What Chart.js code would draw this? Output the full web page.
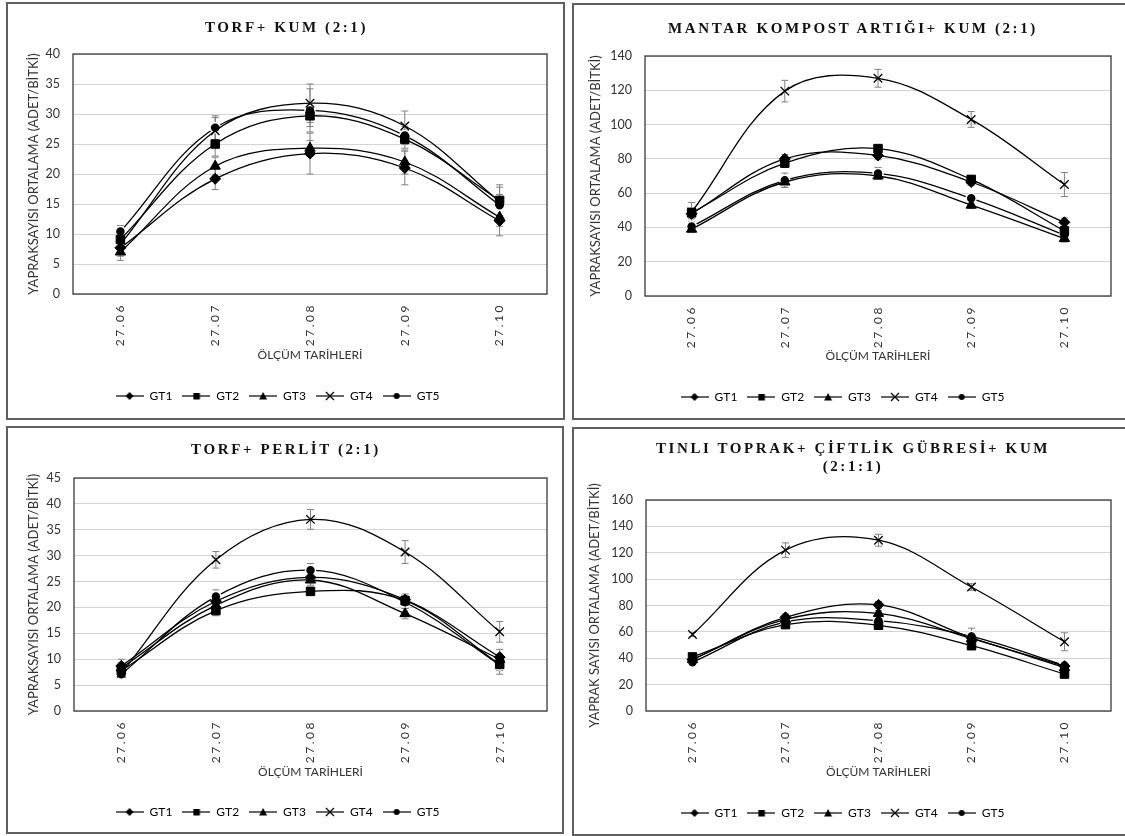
<!DOCTYPE html>
<html>
<head>
<meta charset="utf-8">
<script src="https://cdn.jsdelivr.net/npm/chart.js@4/dist/chart.umd.min.js"></script>
<style>
  html, body { margin: 0; padding: 0; background: #fff; overflow: hidden; }
  body { width: 1125px; height: 836px; position: relative; }
  .panel { position: absolute; border: 2px solid #5f5f5f; box-sizing: border-box; background: #fff; }
  .panel canvas { position: absolute; left: 0; top: 0; }
  .ttl { position: absolute; left: 0; right: 0; text-align: center; padding-left: 2px;
         font-family: 'Liberation Serif', 'Times New Roman', serif; font-weight: bold;
         font-size: 15px; letter-spacing: 2.6px; line-height: 18px; color: #111; }
</style>
</head>
<body>
<div class="panel" style="left:6px; top:2px; width:559px; height:418px;">
  <canvas id="c1" width="555" height="414"></canvas>
  <div class="ttl" style="top:14px;">TORF+ KUM (2:1)</div>
</div>
<div class="panel" style="left:572px; top:3px; width:560px; height:417px;">
  <canvas id="c2" width="556" height="413"></canvas>
  <div class="ttl" style="top:14px;">MANTAR KOMPOST ARTIĞI+ KUM (2:1)</div>
</div>
<div class="panel" style="left:6px; top:426px; width:558px; height:408px;">
  <canvas id="c3" width="554" height="404"></canvas>
  <div class="ttl" style="top:12px;">TORF+ PERLİT (2:1)</div>
</div>
<div class="panel" style="left:572px; top:427px; width:560px; height:409px;">
  <canvas id="c4" width="556" height="405"></canvas>
  <div class="ttl" style="top:10px;">TINLI TOPRAK+ ÇİFTLİK GÜBRESİ+ KUM<br>(2:1:1)</div>
</div>

<script>
// categories and series
const dates = ['27.06', '27.07', '27.08', '27.09', '27.10'];
const seriesNames = ['GT1', 'GT2', 'GT3', 'GT4', 'GT5'];

// TORF+ KUM (2:1)  rows = GT1..GT5
const torfKum = [
    [7.7, 19.2, 23.4, 21.0, 12.2],
    [9.1, 25.0, 29.7, 25.8, 15.6],
    [7.0, 21.3, 24.3, 22.0, 12.8],
    [8.3, 27.2, 31.8, 28.0, 15.4],
    [10.4, 27.7, 30.6, 26.4, 14.8]
];
const torfKumErr = [
    [1.4, 1.8, 3.4, 2.8, 2.5],
    [1.2, 2.0, 1.8, 1.5, 2.6],
    [1.4, 1.5, 1.3, 2.0, 1.5],
    [1.2, 2.2, 3.2, 2.5, 2.4],
    [1.0, 2.0, 3.6, 1.5, 1.8]
];

// MANTAR KOMPOST ARTIĞI+ KUM (2:1)
const mantarKum = [
    [48, 80, 82, 66.5, 43],
    [48.5, 77.5, 86, 68, 38],
    [39, 66.5, 70, 53, 33.5],
    [49, 119.5, 127, 103, 65],
    [40.5, 67.5, 71.5, 57, 35.5]
];
const mantarKumErr = [
    [3, 2.5, 2.5, 2, 2.5],
    [3, 2.5, 2, 2, 2],
    [2, 3, 2, 2, 2],
    [5.5, 6.3, 5.2, 4.6, 7],
    [2.5, 4.2, 3.5, 2.5, 2]
];

// TORF+ PERLİT (2:1)
const torfPerlit = [
    [8.7, 21.2, 25.8, 21.5, 10.4],
    [7.8, 19.4, 23.1, 21.3, 9.0],
    [8.3, 20.4, 25.3, 18.8, 10.0],
    [7.3, 29.2, 37.0, 30.7, 15.3],
    [7.1, 22.1, 27.2, 21.0, 8.9]
];
const torfPerlitErr = [
    [1.3, 1.2, 1.0, 1.1, 1.5],
    [1.0, 1.0, 0.8, 1.0, 1.2],
    [1.0, 1.0, 1.0, 1.0, 1.0],
    [1.0, 1.6, 1.9, 2.2, 2.0],
    [0.8, 1.3, 1.3, 1.2, 1.8]
];

// TINLI TOPRAK+ ÇİFTLİK GÜBRESİ+ KUM (2:1:1)
const tinliToprak = [
    [39, 71, 80.5, 55.5, 34],
    [41, 65.5, 65, 49.5, 28],
    [39, 69.5, 74, 55, 33],
    [58, 122, 129.5, 94, 52.5],
    [37, 67.5, 68.5, 56.5, 34.5]
];
const tinliToprakErr = [
    [2, 2.5, 2.5, 2, 2],
    [2, 2, 2, 2.5, 2],
    [2, 2, 2, 2, 2],
    [1.5, 5.5, 4.5, 2.5, 6.8],
    [2, 2, 3, 6.3, 2.5]
];

const markers = [
    { style: 'rectRot', radius: 5.5 },
    { style: 'rect', radius: 6 },
    { style: 'triangle', radius: 6 },
    { style: 'crossRot', radius: 6 },
    { style: 'circle', radius: 5 }
];

// legend samples: short line with the marker in the middle
function legendIcon(style) {
    const c = document.createElement('canvas');
    c.width = 28; c.height = 14;
    const g = c.getContext('2d');
    g.strokeStyle = '#000'; g.fillStyle = '#000'; g.lineWidth = 1.2;
    g.beginPath(); g.moveTo(0, 7); g.lineTo(28, 7); g.stroke();
    g.beginPath();
    if (style === 'rectRot') {
        g.moveTo(14, 3); g.lineTo(18, 7); g.lineTo(14, 11); g.lineTo(10, 7); g.closePath(); g.fill();
    } else if (style === 'rect') {
        g.fillRect(11, 4, 6.5, 6.5);
    } else if (style === 'triangle') {
        g.moveTo(14, 3); g.lineTo(18, 10.5); g.lineTo(10, 10.5); g.closePath(); g.fill();
    } else if (style === 'crossRot') {
        g.moveTo(10, 3); g.lineTo(18, 11); g.moveTo(18, 3); g.lineTo(10, 11); g.stroke();
    } else {
        g.arc(14, 7, 3, 0, Math.PI * 2); g.fill();
    }
    return c;
}
const legendIcons = markers.map(m => legendIcon(m.style));

const errorBarsAndFrame = {
    id: 'errorBarsAndFrame',
    beforeDatasetsDraw(chart, args, opts) {
        const { ctx, scales: { y } } = chart;
        ctx.save();
        ctx.strokeStyle = '#808080';
        ctx.lineWidth = 1;
        chart.data.datasets.forEach((ds, i) => {
            chart.getDatasetMeta(i).data.forEach((pt, j) => {
                const e = opts.errors[i][j];
                const top = y.getPixelForValue(ds.data[j] + e);
                const bot = y.getPixelForValue(ds.data[j] - e);
                ctx.beginPath();
                ctx.moveTo(pt.x, top); ctx.lineTo(pt.x, bot);
                ctx.moveTo(pt.x - 3.5, top); ctx.lineTo(pt.x + 3.5, top);
                ctx.moveTo(pt.x - 3.5, bot); ctx.lineTo(pt.x + 3.5, bot);
                ctx.stroke();
            });
        });
        ctx.restore();
    },
    afterDatasetsDraw(chart) {
        const { ctx, chartArea: a } = chart;
        ctx.save();
        ctx.strokeStyle = '#3a3a3a';
        ctx.lineWidth = 1.3;
        ctx.strokeRect(a.left, a.top, a.right - a.left, a.bottom - a.top);
        ctx.restore();
        // x tick labels are drawn after this (ticks z = 1), spaced out like the original
        ctx.letterSpacing = '2.5px';
    },
    afterDraw(chart) {
        chart.ctx.letterSpacing = '0px';
    }
};

function makeChart(id, values, errors, yMax, yStep, yTitle, lay) {
    const datasets = values.map((row, i) => ({
        label: seriesNames[i],
        data: row,
        borderColor: '#000',
        borderWidth: 1.3,
        tension: 0.37,
        fill: false,
        pointStyle: markers[i].style,
        pointRadius: markers[i].radius,
        pointBackgroundColor: '#000',
        pointBorderColor: i === 4 ? '#fff' : '#000',
        pointBorderWidth: i === 4 ? 1.5 : (i === 3 ? 1.3 : 1)
    }));

    return new Chart(document.getElementById(id), {
        type: 'line',
        data: { labels: dates, datasets: datasets },
        options: {
            responsive: false,
            animation: false,
            layout: { padding: { top: lay.top, right: lay.right, bottom: lay.bottom, left: 0 } },
            scales: {
                x: {
                    offset: true,
                    grid: { display: false, drawTicks: false },
                    border: { display: false },
                    ticks: {
                        z: 1,
                        minRotation: 90,
                        maxRotation: 90,
                        padding: 9,
                        color: '#333',
                        font: { family: 'Lato', size: 12 }
                    },
                    title: {
                        display: true,
                        text: 'ÖLÇÜM TARİHLERİ',
                        color: '#333',
                        font: { family: 'Lato', size: 12 },
                        padding: { top: 0, bottom: lay.xTitlePad }
                    },
                    afterFit(scale) { scale.height = lay.xHeight; }
                },
                y: {
                    min: 0,
                    max: yMax,
                    ticks: {
                        stepSize: yStep,
                        padding: 13,
                        color: '#333',
                        font: { family: 'Lato', size: 12.5 }
                    },
                    grid: { color: '#d4d4d4', lineWidth: 1, drawTicks: false },
                    border: { display: false },
                    title: {
                        display: true,
                        text: yTitle,
                        color: '#333',
                        font: { family: 'Lato', size: 13 },
                        padding: { top: lay.yTitlePad, bottom: 0 }
                    },
                    afterFit(scale) { scale.width = lay.yWidth; }
                }
            },
            plugins: {
                legend: {
                    position: 'bottom',
                    labels: {
                        usePointStyle: true,
                        pointStyleWidth: 28,
                        padding: 10,
                        color: '#333',
                        font: { family: 'Lato', size: 12 },
                        generateLabels(chart) {
                            return chart.data.datasets.map((ds, i) => ({
                                text: ds.label,
                                pointStyle: legendIcons[i],
                                fillStyle: '#000',
                                strokeStyle: '#000',
                                lineWidth: 0,
                                hidden: false,
                                datasetIndex: i
                            }));
                        }
                    }
                },
                tooltip: { enabled: false },
                errorBarsAndFrame: { errors: errors }
            }
        },
        plugins: [errorBarsAndFrame]
    });
}

makeChart('c1', torfKum, torfKumErr, 40, 5, 'YAPRAKSAYISI ORTALAMA (ADET/BİTKİ)',
    { top: 50, right: 16, bottom: 6, yWidth: 65, xHeight: 86, xTitlePad: 17.8, yTitlePad: 18 });
makeChart('c2', mantarKum, mantarKumErr, 140, 20, 'YAPRAKSAYISI ORTALAMA (ADET/BİTKİ)',
    { top: 51, right: 19, bottom: 5, yWidth: 71, xHeight: 85, xTitlePad: 17.8, yTitlePad: 14 });
makeChart('c3', torfPerlit, torfPerlitErr, 45, 5, 'YAPRAKSAYISI ORTALAMA (ADET/BİTKİ)',
    { top: 50, right: 15, bottom: 4, yWidth: 66, xHeight: 85, xTitlePad: 16.8, yTitlePad: 18 });
makeChart('c4', tinliToprak, tinliToprakErr, 160, 20, 'YAPRAK SAYISI ORTALAMA (ADET/BİTKİ)',
    { top: 71, right: 19, bottom: 5, yWidth: 72, xHeight: 86, xTitlePad: 17.8, yTitlePad: 13 });
</script>
</body>
</html>
